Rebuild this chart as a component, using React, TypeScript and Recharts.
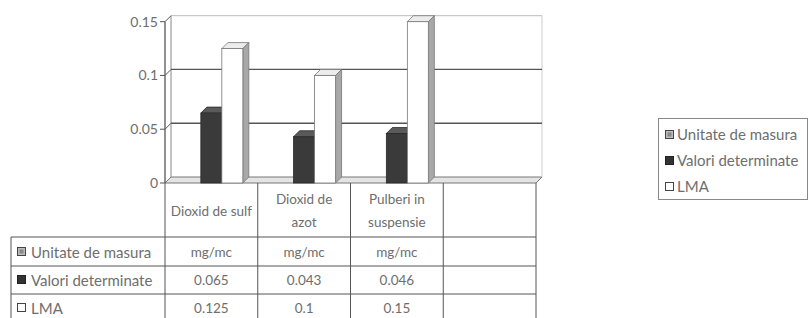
import { BarChart, Bar, XAxis, YAxis, Customized } from "recharts";

// categories (the last column of the Excel data table is empty)
const categories = ["Dioxid de sulf", "Dioxid de azot", "Pulberi in suspensie", ""];
const categoryLines = [["Dioxid de sulf"], ["Dioxid de", "azot"], ["Pulberi in", "suspensie"], []];
const units = ["mg/mc", "mg/mc", "mg/mc", ""];
const valori = [0.065, 0.043, 0.046, null];
const lma = [0.125, 0.1, 0.15, null];
const valoriText = ["0.065", "0.043", "0.046", ""];
const lmaText = ["0.125", "0.1", "0.15", ""];
const seriesNames = ["Unitate de masura", "Valori determinate", "LMA"];
const yTicks = [0, 0.05, 0.1, 0.15];

const data = categories.map((name, i) => ({
  name,
  unit: units[i] ? 0 : null,
  valori: valori[i],
  lma: lma[i],
}));

const W = 809;
const H = 318;
const LEFT = 165;
const RIGHT = 536;
const TOP = 21.7;
const BOTTOM = 183;
const D = 6; // 3d depth
const FONT = "Lato, 'Liberation Sans', sans-serif";
const TEXT = "#6e6e6e";
const LINE = "#555";

const yOf = (v: number) => BOTTOM - (v / 0.15) * (BOTTOM - TOP);

function Swatch({ kind }: { kind: number }) {
  if (kind === 0)
    return (
      <svg width={9} height={9} style={{ display: "block" }}>
        <rect x={0.5} y={0.5} width={8} height={8} fill="#bbb" stroke="#444" />
        <rect x={2.5} y={2.5} width={4} height={4} fill="#888" />
      </svg>
    );
  if (kind === 1)
    return (
      <svg width={9} height={9} style={{ display: "block" }}>
        <rect x={0.5} y={0.5} width={8} height={8} fill="#333" stroke="#222" />
      </svg>
    );
  return (
    <svg width={9} height={9} style={{ display: "block" }}>
      <rect x={0.5} y={0.5} width={8} height={8} fill="#fff" stroke="#444" />
    </svg>
  );
}

function Bar3D(props: any) {
  const { x, y, width, height, front, top, side, stroke } = props;
  if (!height || height <= 0) return null;
  return (
    <g>
      <polygon
        points={`${x},${y} ${x + D},${y - D} ${x + width + D},${y - D} ${x + width},${y}`}
        fill={top}
        stroke={stroke}
        strokeWidth={0.8}
      />
      <polygon
        points={`${x + width},${y} ${x + width + D},${y - D} ${x + width + D},${y + height - D} ${x + width},${y + height}`}
        fill={side}
        stroke={stroke}
        strokeWidth={0.8}
      />
      <rect x={x} y={y} width={width} height={height} fill={front} stroke={stroke} strokeWidth={0.8} />
    </g>
  );
}

function BackWall() {
  return (
    <g>
      {/* floor */}
      <polygon
        points={`${LEFT},${BOTTOM} ${RIGHT},${BOTTOM} ${RIGHT + D},${BOTTOM - D} ${LEFT + D},${BOTTOM - D}`}
        fill="#e4e4e4"
        stroke="#777"
        strokeWidth={1}
      />
      <line x1={LEFT + D} y1={yOf(0.15) - D} x2={LEFT + D} y2={BOTTOM - D} stroke="#888" />
      <line x1={RIGHT + D} y1={yOf(0.15) - D} x2={RIGHT + D} y2={BOTTOM - D} stroke="#ccc" />
      {yTicks.slice(1).map((t) => (
        <g key={t}>
          <line
            x1={LEFT + D}
            y1={yOf(t) - D}
            x2={RIGHT + D}
            y2={yOf(t) - D}
            stroke={t === 0.15 ? "#bbb" : LINE}
            strokeWidth={t === 0.15 ? 1 : 1.3}
          />
          <line x1={LEFT} y1={yOf(t)} x2={LEFT + D} y2={yOf(t) - D} stroke={LINE} />
        </g>
      ))}
    </g>
  );
}

function DataTable() {
  const colW = (RIGHT - LEFT) / categories.length;
  const rows = [237, 266, 294, 322];
  const rowTexts = [units, valoriText, lmaText];
  return (
    <g fontFamily={FONT} fill={TEXT}>
      {categories.map((_, i) => (
        <line key={i} x1={LEFT + colW * (i + 1)} y1={BOTTOM} x2={LEFT + colW * (i + 1)} y2={H} stroke={LINE} />
      ))}
      <line x1={LEFT} y1={BOTTOM} x2={LEFT} y2={H} stroke={LINE} />
      <line x1={11} y1={rows[0]} x2={11} y2={H} stroke={LINE} />
      {rows.slice(0, 3).map((r) => (
        <line key={r} x1={11} y1={r} x2={RIGHT} y2={r} stroke={LINE} />
      ))}
      {categoryLines.map((lines, i) =>
        lines.map((ln, j) => (
          <text
            key={i + "-" + j}
            x={LEFT + colW * (i + 0.5)}
            y={lines.length === 1 ? 211 : 199 + j * 23}
            textAnchor="middle"
            dominantBaseline="central"
            fontSize={13.5}
          >
            {ln}
          </text>
        ))
      )}
      {seriesNames.map((s, r) => {
        const cy = (rows[r] + rows[r + 1]) / 2;
        return (
          <g key={s}>
            <foreignObject x={17} y={cy - 5} width={10} height={10}>
              <Swatch kind={r} />
            </foreignObject>
            <text x={31} y={cy} dominantBaseline="central" fontSize={15}>
              {s}
            </text>
            {rowTexts[r].map((t, i) => (
              <text
                key={i}
                x={LEFT + colW * (i + 0.5)}
                y={cy}
                textAnchor="middle"
                dominantBaseline="central"
                fontSize={13.5}
              >
                {t}
              </text>
            ))}
          </g>
        );
      })}
    </g>
  );
}

function LegendBox() {
  return (
    <div
      style={{
        position: "absolute",
        left: 658,
        top: 118,
        width: 150,
        height: 82,
        border: "1px solid #888",
        boxSizing: "border-box",
        fontFamily: FONT,
        fontSize: 15,
        color: TEXT,
        background: "#fff",
      }}
    >
      {seriesNames.map((s, i) => (
        <div
          key={s}
          style={{
            position: "absolute",
            left: 6,
            top: 15 + i * 26 - 8,
            height: 16,
            display: "flex",
            alignItems: "center",
            whiteSpace: "nowrap",
          }}
        >
          <Swatch kind={i} />
          <span style={{ marginLeft: 3 }}>{s}</span>
        </div>
      ))}
    </div>
  );
}

export default function App() {
  return (
    <div style={{ position: "absolute", left: 0, top: 0, width: W, height: H, background: "#fff" }}>
      <BarChart
        width={W}
        height={H}
        data={data}
        margin={{ top: TOP, right: W - RIGHT, bottom: H - BOTTOM, left: 0 }}
        barCategoryGap="16%"
        barGap={0}
      >
        <Customized component={BackWall} />
        <XAxis dataKey="name" hide />
        <YAxis
          width={LEFT}
          domain={[0, 0.15]}
          ticks={yTicks}
          tickFormatter={(v: number) => String(v)}
          axisLine={{ stroke: LINE, strokeWidth: 1.3 }}
          tickLine={{ stroke: LINE }}
          tickSize={5}
          tickMargin={2}
          tick={{ fill: TEXT, fontSize: 14, fontFamily: FONT }}
        />
        <Bar dataKey="unit" name={seriesNames[0]} isAnimationActive={false} fill="#bbb" />
        <Bar
          dataKey="valori"
          name={seriesNames[1]}
          isAnimationActive={false}
          fill="#333"
          shape={(p: any) => <Bar3D {...p} front="#3a3a3a" top="#5a5a5a" side="#262626" stroke="#2a2a2a" />}
        />
        <Bar
          dataKey="lma"
          name={seriesNames[2]}
          isAnimationActive={false}
          fill="#fff"
          shape={(p: any) => <Bar3D {...p} front="#ffffff" top="#ececec" side="#a8a8a8" stroke="#777" />}
        />
        <Customized component={DataTable} />
      </BarChart>
      <LegendBox />
    </div>
  );
}
